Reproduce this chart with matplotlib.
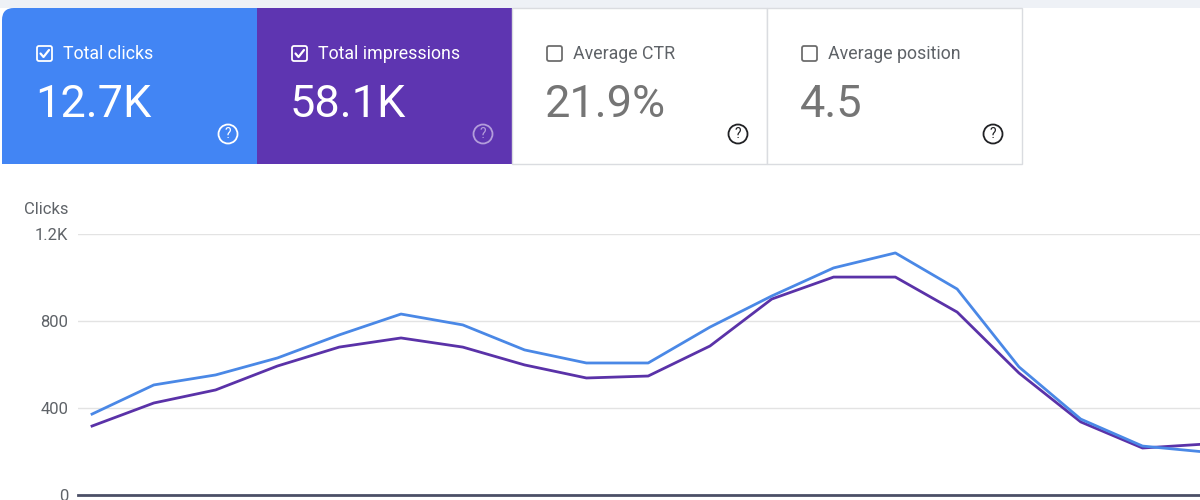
import matplotlib
matplotlib.use("Agg")
import matplotlib.pyplot as plt
from matplotlib.patches import Rectangle, FancyBboxPatch, Circle, PathPatch
from matplotlib.path import Path

plt.rcParams['font.family'] = ['Roboto', 'DejaVu Sans']

# ---- data ----
card_labels = ["Total clicks", "Total impressions", "Average CTR", "Average position"]
card_values = ["12.7K", "58.1K", "21.9%", "4.5"]
card_checked = [True, True, False, False]

clicks = [372, 506, 552, 630, 736, 832, 782, 667, 607, 607, 772, 915, 1044, 1113, 947, 589, 349, 225, 198]
impressions = [317, 423, 483, 593, 680, 722, 680, 598, 538, 547, 685, 901, 1002, 1002, 841, 561, 336, 216, 234]
y_ticks = [0, 400, 800, 1200]
y_tick_labels = ["0", "400", "800", "1.2K"]
y_title = "Clicks"

BLUE = "#4285f4"
PURPLE = "#5e35b1"
LINE_BLUE = "#4a88e6"
LINE_PURPLE = "#5a32a8"

fig = plt.figure(figsize=(12, 5), dpi=100)
fig.patch.set_facecolor("white")

# overlay axes in pixel coordinates
bg = fig.add_axes([0, 0, 1, 1], zorder=0)
bg.set_xlim(0, 1200)
bg.set_ylim(500, 0)
bg.axis("off")

# top strip
bg.add_patch(Rectangle((0, 0), 1200, 8, facecolor="#eef1f6", edgecolor="none"))

card_x = [2, 257, 512, 767]
card_w = 255
card_top, card_bot = 8, 164
fills = [BLUE, PURPLE, "white", "white"]
for i in range(4):
    x0 = card_x[i]
    if i == 0:
        # rounded top-left corner
        r = 12
        verts = [(x0, card_bot), (x0, card_top + r), (x0, card_top), (x0 + r, card_top),
                 (x0 + card_w, card_top), (x0 + card_w, card_bot), (x0, card_bot)]
        codes = [Path.MOVETO, Path.LINETO, Path.CURVE3, Path.CURVE3, Path.LINETO, Path.LINETO, Path.CLOSEPOLY]
        bg.add_patch(PathPatch(Path(verts, codes), facecolor=fills[i], edgecolor="none"))
    else:
        bg.add_patch(Rectangle((x0, card_top), card_w, card_bot - card_top,
                               facecolor=fills[i],
                               edgecolor="none" if i < 2 else "#dadce0",
                               linewidth=1))
    dark = i >= 2
    txt_col = "white" if not dark else "#5f6368"
    val_col = "white" if not dark else "#757575"
    box_col = "white" if not dark else "#6e6e6e"
    # checkbox
    bx, by, bs = x0 + 35, 46, 15
    bg.add_patch(FancyBboxPatch((bx, by), bs, bs, boxstyle="round,pad=0,rounding_size=2",
                                facecolor="none", edgecolor=box_col, linewidth=1.3))
    if card_checked[i]:
        bg.plot([bx + 3.5, bx + 6.5, bx + 12], [by + 7.5, by + 11, by + 4],
                color="white", linewidth=1.6, solid_capstyle="round")
    bg.text(x0 + 61, 54, card_labels[i], color=txt_col, fontsize=12.8,
            va="center", ha="left")
    bg.text(x0 + 33, 105, card_values[i], color=val_col, fontsize=32.5,
            va="center", ha="left")
    # help icon
    hc = {0: "white", 1: "#b39ddb"}.get(i, "#202124")
    hx, hy = x0 + 226, 134
    bg.add_patch(Circle((hx, hy), 9.5, facecolor="none", edgecolor=hc, linewidth=1.3))
    bg.text(hx, hy + 0.5, "?", color=hc, fontsize=10, ha="center", va="center")

# chart title label
bg.text(24, 209, y_title, color="#5f6368", fontsize=12, ha="left", va="center")

# ---- chart ----
ax = fig.add_axes([78 / 1200, 5 / 500, 1 - 78 / 1200, (495 - 234) / 500], zorder=1)
ax.set_facecolor("none")
x = list(range(len(clicks)))
ax.plot(x, impressions, color=LINE_PURPLE, linewidth=2.0, zorder=3)
ax.plot(x, clicks, color=LINE_BLUE, linewidth=2.0, zorder=4)
ax.set_xlim(-0.227, 17.93)
ax.set_ylim(0, 1200)
ax.set_yticks(y_ticks)
ax.set_yticklabels(y_tick_labels)
ax.set_xticks([])
for s in ["top", "right", "left"]:
    ax.spines[s].set_visible(False)
ax.spines["bottom"].set_color("#4b4f66")
ax.spines["bottom"].set_linewidth(2)
ax.grid(axis="y", color="#e3e3e3", linewidth=1)
ax.tick_params(axis="y", length=0, pad=7, labelcolor="#5f6368", labelsize=12)
ax.set_axisbelow(True)

fig.savefig("out.png", dpi=100)
